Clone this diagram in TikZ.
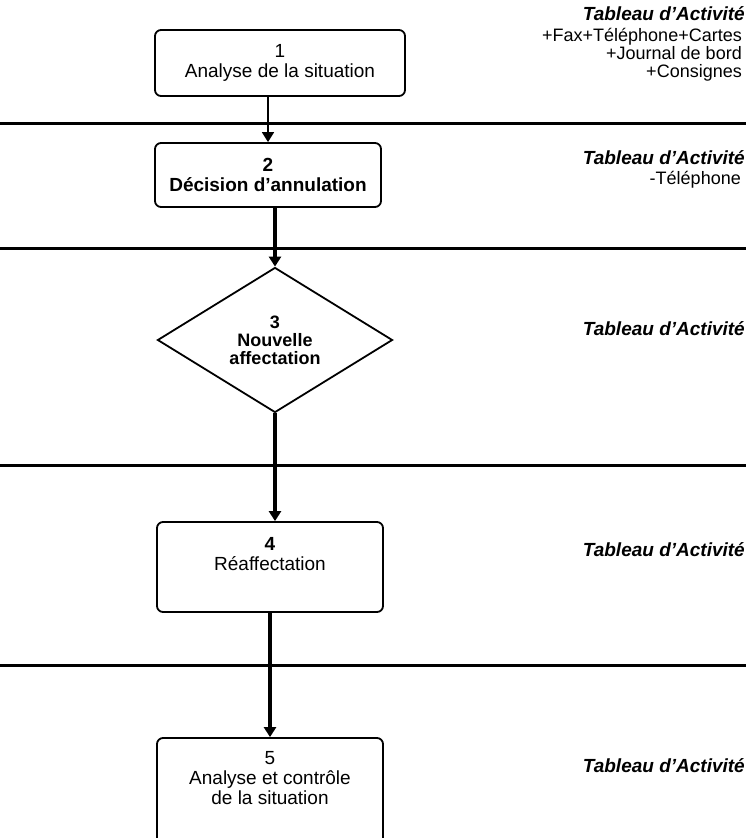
\documentclass[tikz,border=0pt]{standalone}
\usepackage{fontspec}
\setmainfont{Liberation Sans}
\usetikzlibrary{shapes.geometric,positioning,arrows.meta}

\begin{document}
\begin{tikzpicture}[x=1pt, y=-1pt,
    etape/.style={draw, line width=1.8pt, rounded corners=6pt, align=center, inner sep=0pt,
      font=\fontsize{19}{20}\selectfont},
    choix/.style={draw, diamond, line width=1.8pt, align=center, inner sep=0pt,
      font=\fontsize{18}{18}\selectfont\bfseries},
    fleche/.style={line width=3.8pt, -{Triangle[length=10pt, width=12pt]}},
    titre/.style={anchor=east, inner sep=0pt, font=\fontsize{19}{20}\selectfont\bfseries\itshape},
    outils/.style={align=right, anchor=north east, inner sep=0pt, font=\fontsize{18}{18}\selectfont}]
    \clip (0, 0) rectangle (746, 838);

    % Separators
    \draw [line width=3pt] (0, 123) -- (746, 123);
    \draw [line width=3pt] (0, 248) -- (746, 248);
    \draw [line width=3pt] (0, 465) -- (746, 465);
    \draw [line width=3pt] (0, 665) -- (746, 665);

    % Steps
    \node [etape, minimum width=250pt, minimum height=66pt] (analyse) at (280, 63)
      {1\\Analyse de la situation\hspace{14pt}};
    \node [etape, minimum width=226pt, minimum height=64pt, font=\fontsize{19}{20}\selectfont\bfseries]
      (decision) at (268, 175) {2\\Décision d'annulation};
    \node [choix, minimum width=235pt, minimum height=145pt] (nouvelle) at (275, 340)
      {3\\Nouvelle\\affectation};
    \node [etape, minimum width=226pt, minimum height=90pt] (reaff) at (270, 567)
      {\textbf{4}\\Réaffectation\\[6pt]};
    \node [etape, minimum width=226pt, minimum height=110pt] (controle) at (270, 793)
      {5\\Analyse et contrôle\\de la situation\\[10pt]};

    % Arrows
    \draw [fleche, line width=1.8pt] (decision.north |- analyse.south) -- (decision.north);
    \draw [fleche] (nouvelle.north |- decision.south) -- (nouvelle.north);
    \draw [fleche] (nouvelle.south) -- (nouvelle.south |- reaff.north);
    \draw [fleche] (reaff.south) -- (controle.north);

    % Activity tables
    \node [titre] (tab1) at (745, 14) {Tableau d'Activité};
    \node [outils] (outils1) at (742, 28) {+Fax+Téléphone+Cartes\\+Journal de bord\\+Consignes};
    \node [titre] (tab2) at (745, 158) {Tableau d'Activité};
    \node [outils] (outils2) at (741, 171) {-Téléphone};
    \node [titre] (tab3) at (745, 329) {Tableau d'Activité};
    \node [titre] (tab4) at (745, 550) {Tableau d'Activité};
    \node [titre] (tab5) at (745, 766) {Tableau d'Activité};
  \end{tikzpicture}
\end{document}
